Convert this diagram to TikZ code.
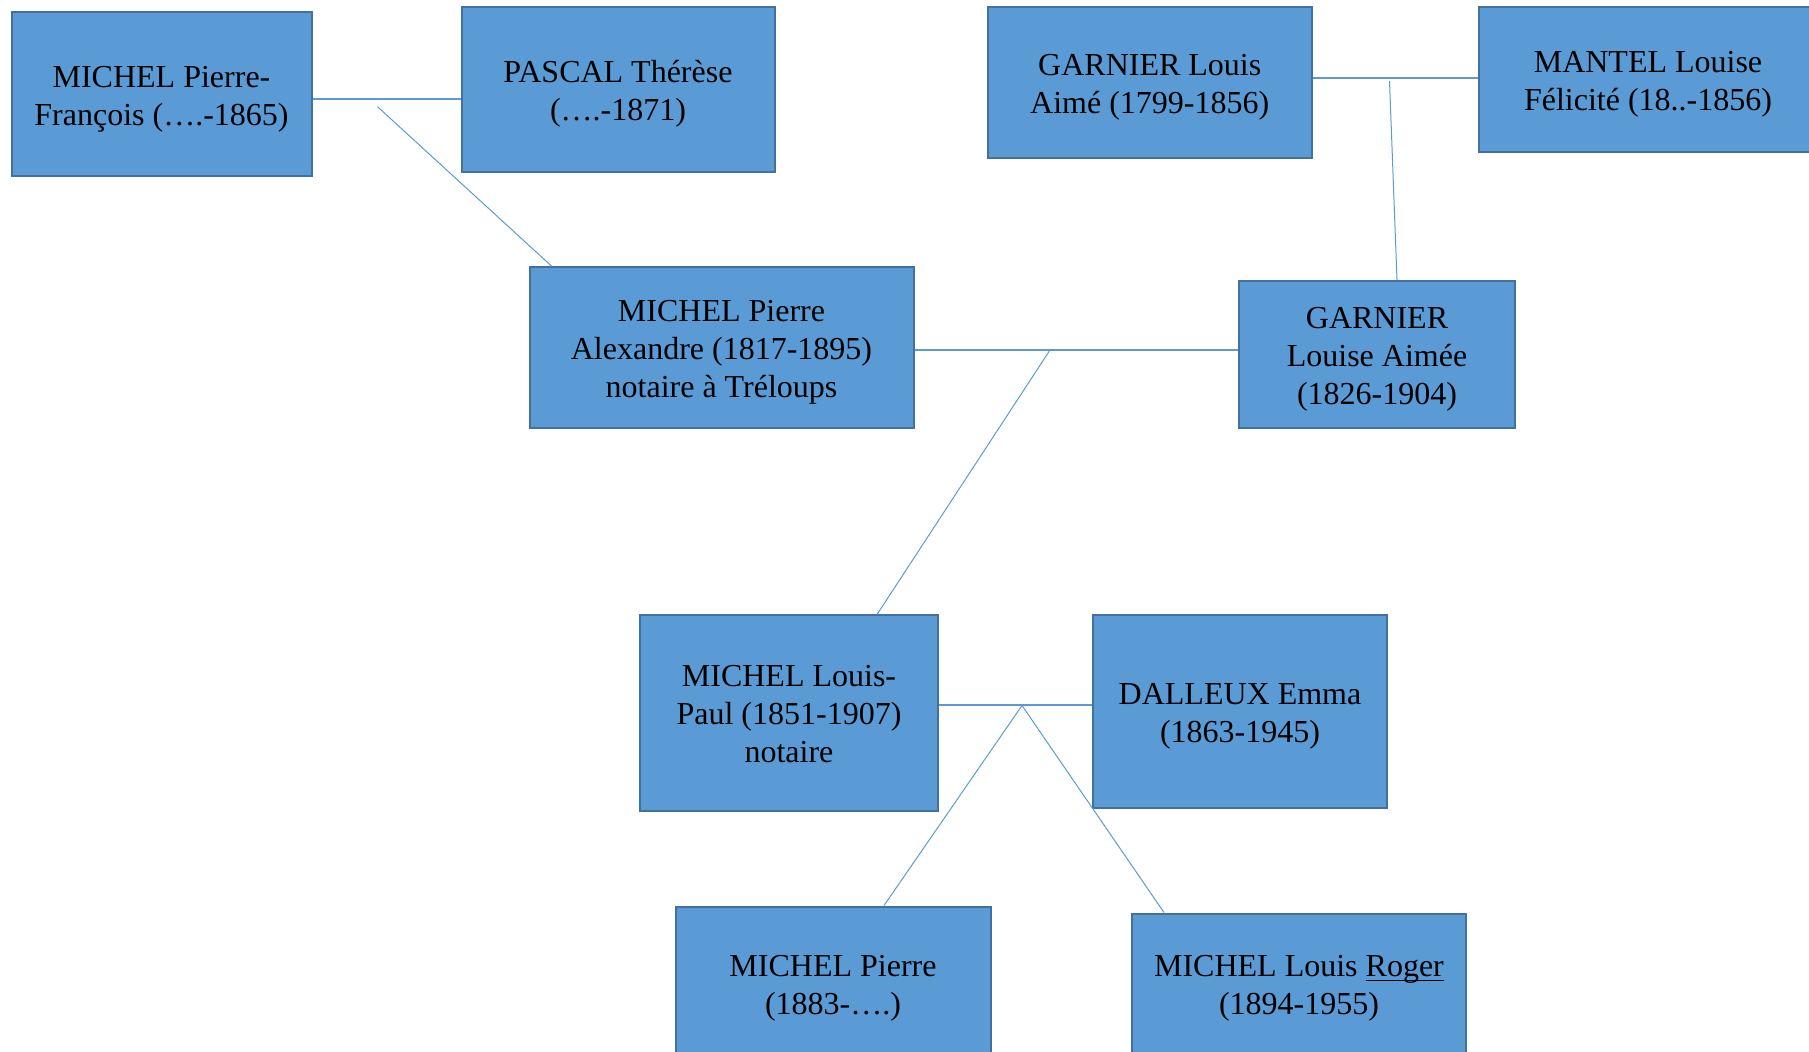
\documentclass[tikz,border=0pt]{standalone}
\usepackage{fontspec}
\setmainfont{Liberation Serif}
\usetikzlibrary{calc}

\definecolor{boxfill}{RGB}{91,155,213}
\definecolor{boxborder}{RGB}{65,113,156}

\newcommand*\px{0.5pt}
\newcommand*\thickul[1]{\setbox0\hbox{#1}\rlap{\rule[-2.4pt]{\wd0}{0.8pt}}\box0}
\tikzset{person/.style n args={3}{
    draw=boxborder,
    line width=1pt,
    fill=boxfill,
    rectangle,
    anchor=north west,
    inner sep=0pt,
    minimum width=#1*\px,
    minimum height=#2*\px,
    align=center,
    font=\fontsize{16}{19}\selectfont,
    execute at begin node={\rule{0pt}{\dimexpr 19pt*#3-4pt\relax}},
    execute at end node={\rule[-3.25pt]{0pt}{0pt}}
},
couple/.style={draw=boxfill, line width=1pt},
link/.style={draw=boxfill, line width=0.5pt}}

\begin{document}
\begin{tikzpicture}[x=\px,y=-\px]

    \useasboundingbox (0,0) rectangle (1809,1052);

    % Grandparents, MICHEL side.
    %\node[person={WIDTH}{HEIGHT}{LINES}] (NAME) at (LEFT,TOP) {TEXT};
    \node[person={300}{164}{2}] (pfrancois) at (10.5,11.5) {MICHEL Pierre-\\François (….-1865)};
    \node[person={313}{164.5}{2}] (therese) at (460.5,6.5) {PASCAL Thérèse\\(….-1871)};

    % Grandparents, GARNIER side.
    \node[person={324.5}{151}{2}] (louisaime) at (986.5,6.5) {GARNIER Louis\\Aimé (1799-1856)};
    \node[person={338}{145}{2}] (felicite) at (1478,6.5) {MANTEL Louise\\Félicité (18..-1856)};

    % Parents.
    \node[person={384}{160.5}{3}] (palexandre) at (528.5,266.5) {MICHEL Pierre\\Alexandre (1817-1895)\\notaire à Tréloups};
    \node[person={276}{147}{3}] (louiseaimee) at (1238,280) {GARNIER\\Louise Aimée\\(1826-1904)};

    % Louis-Paul and his wife.
    \node[person={298}{195}{3}] (louispaul) at (639,614.5) {MICHEL Louis-\\Paul (1851-1907)\\notaire};
    \node[person={294}{192}{2}] (emma) at (1092,614.5) {DALLEUX Emma\\(1863-1945)};

    % Children.
    \node[person={315}{154}{2}] (pierre) at (674.5,905.5) {MICHEL Pierre\\(1883-….)};
    \node[person={334}{141}{2}] (roger) at (1131,912.5) {MICHEL Louis \thickul{Roger}\\(1894-1955)};

    % Where the lines meet.
    \coordinate (mAB) at (377.5,99.3);
    \coordinate (kAB) at (377.5,106.7);
    \coordinate (mCD) at (1389.5,78.3);
    \coordinate (kCD) at (1389.5,81);
    \coordinate (mEF) at (1050,350);
    \coordinate (mGH) at (1022,705.5);

    % Couples.
    \draw[couple] (pfrancois.east |- mAB) -- (therese.west |- mAB);
    \draw[couple] (louisaime.east |- mCD) -- (felicite.west |- mCD);
    \draw[couple] (palexandre.east |- mEF) -- (louiseaimee.west |- mEF);
    \draw[couple] (louispaul.east |- mGH) -- (emma.west |- mGH);

    % Children.
    \draw[link] (kAB) -- ($(palexandre.north west)+(23.5,0)$);
    \draw[link] (kCD) -- ($(louiseaimee.north west)+(159,0)$);
    \draw[link] (mEF) -- ($(louispaul.north west)+(238,0)$);
    \draw[link] (mGH) -- ($(pierre.north west)+(209.5,0)$);
    \draw[link] (mGH) -- ($(roger.north west)+(33,0)$);

\end{tikzpicture}
\end{document}
